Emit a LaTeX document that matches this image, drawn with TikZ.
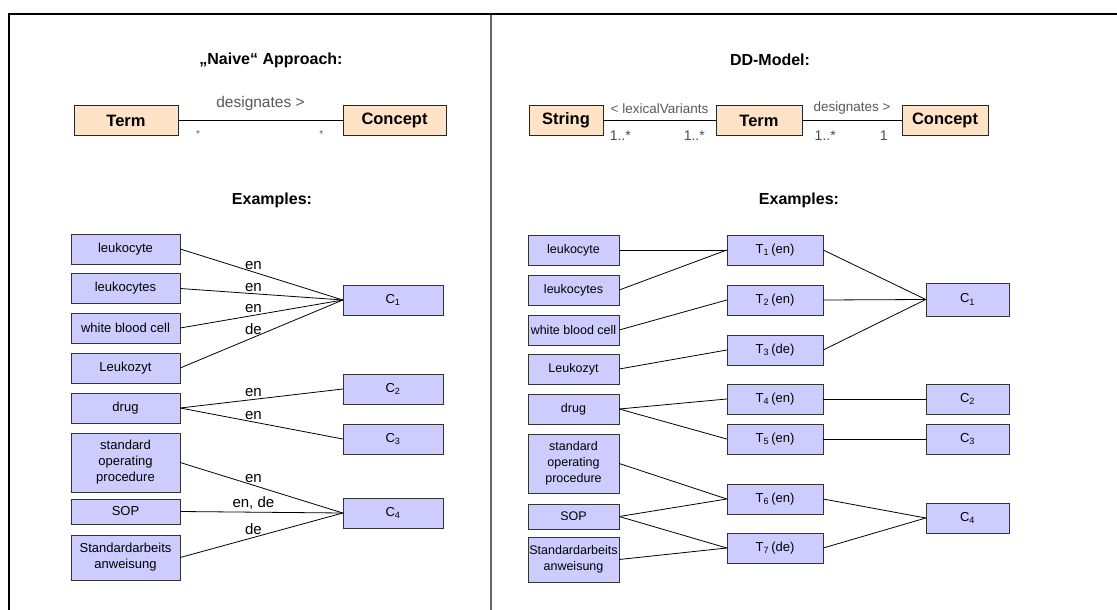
\documentclass[tikz,border=0pt]{standalone}
\usepackage{fontspec}
\setmainfont{Liberation Sans}
\definecolor{lav}{HTML}{CCCCFF}
\definecolor{peach}{HTML}{FFE3C6}
\begin{document}
\begin{tikzpicture}[x=1pt,y=-1pt,
    word/.style={draw=black!80,fill=lav,minimum height=30pt,inner sep=1pt,align=center,font=\fontsize{13}{16}\selectfont},
    lword/.style={word,minimum width=109pt},
    rword/.style={word,minimum width=91pt,font=\fontsize{12.5}{16}\selectfont},
    cls/.style={draw=black!85,fill=peach,minimum height=30pt,line width=0.9pt,font=\bfseries\fontsize{16.5}{18}\selectfont},
    heading/.style={font=\bfseries\fontsize{16}{18}\selectfont},
    role/.style={text=black!65,font=\fontsize{15.5}{17}\selectfont,inner sep=1pt},
    rrole/.style={role,font=\fontsize{13.5}{16}\selectfont},
    mult/.style={text=black!70,font=\fontsize{14}{16}\selectfont,inner sep=1pt},
    lang/.style={font=\fontsize{15}{17}\selectfont,inner sep=2pt},
    link/.style={black,line width=0.8pt}]
\useasboundingbox (0,0) rectangle (1117,610);
% frame
\draw [line width=2pt] (9,610)--(9,14)--(1117,14);
\draw [black!60,line width=1.5pt] (491,15)--(491,610);

% left panel: naive approach
\node[heading] (naive) at (271,60) {„Naive“ Approach:};
\node[cls,minimum width=104pt] (term) at (126,120.5) {Term};
\node[cls,minimum width=103pt] (concept) at (394.5,120.5) {Concept};
\draw [link] (term)--(concept)
    node[role,midway,above=8pt] {designates >}
    node[role,pos=0.12,below=9pt,font=\fontsize{10}{12}\selectfont] {*}
    node[role,pos=0.87,below=9pt,font=\fontsize{10}{12}\selectfont] {*};
\node[heading] (examples) at (272,200) {Examples:};

\node[lword] (leukocyte) at (125.5,249) {leukocyte};
\node[lword] (leukocytes) at (125.5,288.5) {leukocytes};
\node[lword] (wbc) at (125.5,328) {white blood cell};
\node[lword] (leukozyt) at (125.5,368) {Leukozyt};
\node[lword] (drug) at (125.5,408) {drug};
\node[lword,minimum height=59pt] (sopfull) at (125.5,462.5) {standard\\operating\\procedure};
\node[lword,minimum height=25pt] (sop) at (125.5,511.5) {SOP};
\node[lword,minimum height=45pt] (standard) at (125.5,557.5) {Standardarbeits\\anweisung};
\node[word,minimum width=100pt] (cone) at (393,300) {C\textsubscript{1}};
\node[word,minimum width=100pt] (ctwo) at (393,389) {C\textsubscript{2}};
\node[word,minimum width=100pt] (cthree) at (393,439) {C\textsubscript{3}};
\node[word,minimum width=100pt] (cfour) at (393,513) {C\textsubscript{4}};

\draw [link] (leukocyte.east)--(cone.west) node[lang,pos=0.45,above] {en};
\draw [link] (leukocytes.east)--(cone.west) node[lang,pos=0.45,above] {en};
\draw [link] (wbc.east)--(cone.west) node[lang,pos=0.45,above] {en};
\draw [link] (leukozyt.east)--(cone.west) node[lang,pos=0.45,above] {de};
\draw [link] (drug.east)--(ctwo.west) node[lang,pos=0.45,above] {en};
\draw [link] (drug.east)--(cthree.west) node[lang,pos=0.45,above] {en};
\draw [link] (sopfull.east)--(cfour.west) node[lang,pos=0.45,above] {en};
\draw [link] (sop.east)--(cfour.west) node[lang,pos=0.45,above] {en, de};
\draw [link] (standard.east)--(cfour.west) node[lang,pos=0.45,above] {de};

% right panel: DD-Model
\node[heading] (ddmodel) at (770,60) {DD-Model:};
\node[cls,minimum width=74pt] (string) at (566,120.5) {String};
\node[cls,minimum width=86pt] (dterm) at (759,120.5) {Term};
\node[cls,minimum width=86pt] (dconcept) at (945,120.5) {Concept};
\draw [link] (string)--(dterm)
    node[rrole,midway,above=5pt] {< lexicalVariants}
    node[mult,pos=0.15,below=9pt] {1..*}
    node[mult,pos=0.81,below=9pt] {1..*};
\draw [link] (dterm)--(dconcept)
    node[rrole,midway,above=5pt] {designates >}
    node[mult,pos=0.23,below=9pt] {1..*}
    node[mult,pos=0.82,below=9pt] {1};
\node[heading] (rexamples) at (799,200) {Examples:};

\node[rword] (rleukocyte) at (573.5,250) {leukocyte};
\node[rword] (rleukocytes) at (573.5,290) {leukocytes};
\node[rword] (rwbc) at (573.5,330) {white blood cell};
\node[rword] (rleukozyt) at (573.5,369) {Leukozyt};
\node[rword] (rdrug) at (573.5,409) {drug};
\node[rword,minimum height=59pt] (rsopfull) at (573.5,463.5) {standard\\operating\\procedure};
\node[rword,minimum height=25pt] (rsop) at (573.5,516.5) {SOP};
\node[rword,minimum height=45pt] (rstandard) at (573.5,559.5) {Standardarbeits\\anweisung};

\node[word,minimum width=96pt] (tone) at (775,250) {T\textsubscript{1}\,(en)};
\node[word,minimum width=96pt] (ttwo) at (775,300) {T\textsubscript{2}\,(en)};
\node[word,minimum width=96pt] (tthree) at (775,350) {T\textsubscript{3}\,(de)};
\node[word,minimum width=96pt] (tfour) at (775,399) {T\textsubscript{4}\,(en)};
\node[word,minimum width=96pt] (tfive) at (775,439) {T\textsubscript{5}\,(en)};
\node[word,minimum width=96pt] (tsix) at (775,499) {T\textsubscript{6}\,(en)};
\node[word,minimum width=96pt] (tseven) at (775,548) {T\textsubscript{7}\,(de)};

\node[word,minimum width=83pt,minimum height=33pt] (rcone) at (967.5,299.5) {C\textsubscript{1}};
\node[word,minimum width=83pt] (rctwo) at (967.5,399) {C\textsubscript{2}};
\node[word,minimum width=83pt] (rcthree) at (967.5,439) {C\textsubscript{3}};
\node[word,minimum width=83pt] (rcfour) at (967.5,518) {C\textsubscript{4}};

\draw [link] (rleukocyte.east)--(tone.west);
\draw [link] (rleukocytes.east)--(tone.west);
\draw [link] (rwbc.east)--(ttwo.west);
\draw [link] (rleukozyt.east)--(tthree.west);
\draw [link] (rdrug.east)--(tfour.west);
\draw [link] (rdrug.east)--(tfive.west);
\draw [link] (rsopfull.east)--(tsix.west);
\draw [link] (rsop.east)--(tsix.west);
\draw [link] (rsop.east)--(tseven.west);
\draw [link] (rstandard.east)--(tseven.west);

\draw [link] (tone.east)--(rcone.west);
\draw [link] (ttwo.east)--(rcone.west);
\draw [link] (tthree.east)--(rcone.west);
\draw [link] (tfour.east)--(rctwo.west);
\draw [link] (tfive.east)--(rcthree.west);
\draw [link] (tsix.east)--(rcfour.west);
\draw [link] (tseven.east)--(rcfour.west);
\end{tikzpicture}
\end{document}
